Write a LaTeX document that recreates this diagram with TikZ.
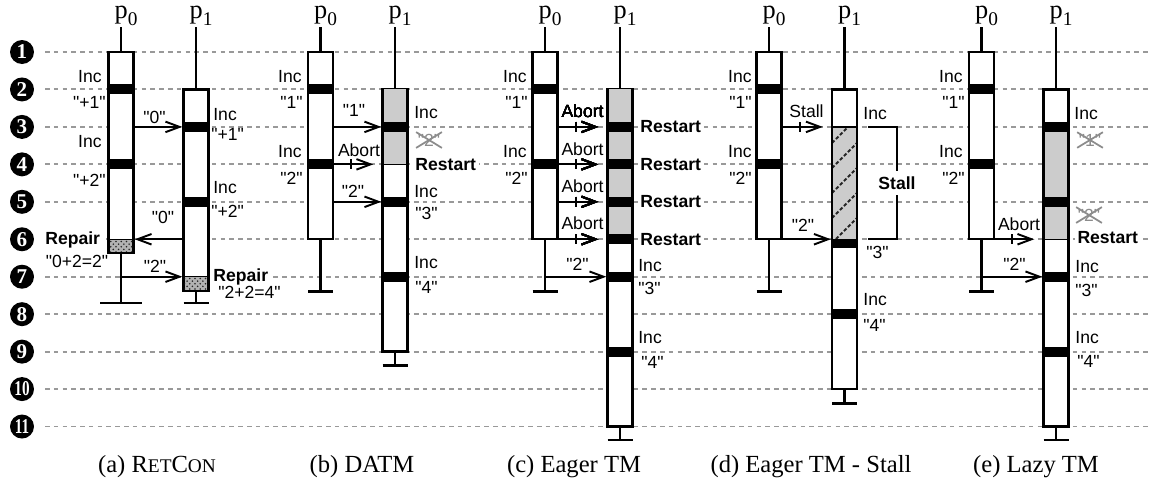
\documentclass[tikz,border=0pt]{standalone}
\usepackage{fontspec}
\setmainfont{Liberation Serif}
\setsansfont{Liberation Sans}
\usetikzlibrary{arrows.meta, positioning, fit, calc, patterns, shapes.misc}
\tikzset{
    proc/.style={rectangle, draw=black, line width=1.4pt, fill=white, inner sep=0pt},
    life/.style={line width=1.4pt},
    rowline/.style={gray!80, line width=1.1pt, dash pattern=on 2.6pt off 2.4pt},
    pending/.style={fill=gray!40},
    repair/.style={fill=gray!60, postaction={pattern=crosshatch dots, pattern color=black!85}},
    hatchline/.style={black!85, line width=1.1pt, dash pattern=on 2pt off 1.2pt},
    msg/.style={line width=1.1pt, -{Straight Barb[length=8pt, width=6pt, line width=1.1pt]}},
    nack/.style={msg, shorten >=0.16cm},
    lbl/.style={font=\fontsize{10}{12}\sffamily, inner sep=0pt},
    blbl/.style={font=\fontsize{10}{12}\sffamily\bfseries, inner sep=1.5pt, fill=white},
    gone/.style={lbl, text=gray!90, cross out, draw=gray!90, line width=1pt, inner sep=0.5pt},
    rownum/.style={circle, fill=black, text=white, minimum size=0.48cm, inner sep=0pt, font=\fontsize{12}{12}\selectfont\bfseries},
    pname/.style={font=\fontsize{15}{15}\selectfont, anchor=base},
    subcap/.style={font=\fontsize{14}{14}\selectfont}
}
\newcommand{\pendfill}[3]{\fill[pending] ($(#1.west |- #2)+(1.4pt,0)$) rectangle ($(#1.east |- #3)+(-1.4pt,0)$);}
\newcommand{\bandfill}[2]{\fill ($(#1.west |- #2)+(0,-5)$) rectangle ($(#1.east |- #2)+(0,5)$);}
\newcommand{\tickmark}[2]{\draw[line width=1.1pt] ($(#1.east |- #2)+(17,-5)$) -- ++(0,10);}
\newcommand{\q}[1]{\textquotedbl#1\textquotedbl}
\newcommand{\pz}{\raisebox{-4pt}{\fontsize{11}{11}\selectfont 0}}
\newcommand{\po}{\raisebox{-4pt}{\fontsize{11}{11}\selectfont 1}}

\begin{document}
\begin{tikzpicture}[x=0.02cm, y=-0.02cm]
    \useasboundingbox (0,0) rectangle (1151,484);
    \coordinate (top) at (0,27);
    \foreach \i in {1,...,11} {
        \pgfmathsetmacro{\ry}{52+(\i-1)*37.45}
        \coordinate (r\i) at (0,\ry);
        \draw[rowline] (45,\ry) -- (1151,\ry);
        \node[rownum] (n\i) at (22,\ry) {\ifnum\i>9 \scalebox{0.72}[1]{\i}\else\i\fi};
    }

    % (a) RetCon
    \node[pname] (a0name) at (126,18) {p\pz};
    \node[pname] (a1name) at (201,18) {p\po};
    \node[proc, fit={(108.5,52) (133.5,253)}] (a0) {};
    \node[proc, fit={(183.5,89.45) (208.5,291)}] (a1) {};
    \draw[life] (a0.north) -- (a0.north |- top);
    \draw[life] (a1.north) -- (a1.north |- top);
    \draw[life] (a0.south) -- ++(0,49) ++(-21,0) -- ++(42,0);
    \draw[life] (a1.south) -- ++(0,11) ++(-12.5,0) -- ++(25,0);
    \bandfill{a0}{r2} \bandfill{a0}{r4}
    \bandfill{a1}{r3} \bandfill{a1}{r5}
    \fill[repair] ($(a0.west |- r6)+(1.4pt,0)$) rectangle ($(a0.south east)+(-1.4pt,1.4pt)$);
    \draw[line width=0.8pt] (a0.west |- r6) -- (a0.east |- r6);
    \fill[repair] ($(a1.west |- r7)+(1.4pt,0)$) rectangle ($(a1.south east)+(-1.4pt,1.4pt)$);
    \draw[line width=0.8pt] (a1.west |- r7) -- (a1.east |- r7);
    \draw[msg] (a0.east |- r3) -- (a1.west |- r3);
    \draw[msg] (a1.west |- r6) -- (a0.east |- r6);
    \draw[msg] (a0.south |- r7) -- (a1.west |- r7);
    \node[lbl, anchor=east] (a0inc1) at (102,77) {Inc};
    \node[lbl, anchor=east] (a0val1) at (106,102) {\q{+1}};
    \node[lbl, anchor=east] (a0inc2) at (102,142) {Inc};
    \node[lbl, anchor=east] (a0val2) at (106,180) {\q{+2}};
    \node[lbl, anchor=west] (a1inc1) at (213,115) {Inc};
    \node[lbl, anchor=west] (a1val1) at (211,134) {\q{+1}};
    \node[lbl, anchor=west] (a1inc2) at (213,188) {Inc};
    \node[lbl, anchor=west] (a1val2) at (211,211) {\q{+2}};
    \node[lbl] (amsg1) at (154.5,117) {\q{0}};
    \node[lbl] (amsg2) at (163,217) {\q{0}};
    \node[lbl] (amsg3) at (155,266) {\q{2}};
    \node[blbl, anchor=east] (a0rep) at (103,240) {Repair};
    \node[lbl] (a0sum) at (77,261) {\q{0+2=2}};
    \node[blbl, anchor=west] (a1rep) at (210.5,277) {Repair};
    \node[lbl, anchor=west] (a1sum) at (218,292) {\q{2+2=4}};
    \node[subcap] (acap) at (157,467) {(a) R{\fontsize{11}{11}\selectfont ET}C{\fontsize{11}{11}\selectfont ON}};

    % (b) DATM
    \node[pname] (b0name) at (325.5,18) {p\pz};
    \node[pname] (b1name) at (400,18) {p\po};
    \node[proc, fit={(308,52) (333,239.25)}] (b0) {};
    \node[proc, fit={(382.5,89.45) (407.5,351.6)}] (b1) {};
    \draw[life] (b0.north) -- (b0.north |- top);
    \draw[life] (b1.north) -- (b1.north |- top);
    \draw[life] (b0.south) -- ++(0,51) ++(-12.5,0) -- ++(25,0);
    \draw[life] (b1.south) -- ++(0,12.5) ++(-12.5,0) -- ++(25,0);
    \bandfill{b0}{r2} \bandfill{b0}{r4}
    \pendfill{b1}{r2}{r4}
    \bandfill{b1}{r3} \bandfill{b1}{r5} \bandfill{b1}{r7}
    \draw[line width=0.8pt] (b1.west |- r4) -- (b1.east |- r4);
    \draw[msg] (b0.east |- r3) -- (b1.west |- r3);
    \draw[nack] (b0.east |- r4) -- (b1.west |- r4);
    \tickmark{b0}{r4}
    \draw[msg] (b0.east |- r5) -- (b1.west |- r5);
    \node[lbl, anchor=east] (b0inc1) at (302,77) {Inc};
    \node[lbl, anchor=east] (b0val1) at (303,102) {\q{1}};
    \node[lbl, anchor=east] (b0inc2) at (302,152) {Inc};
    \node[lbl, anchor=east] (b0val2) at (303,178) {\q{2}};
    \node[lbl] (bmsg1) at (354,110) {\q{1}};
    \node[lbl] (babort) at (359,150) {Abort};
    \node[lbl] (bmsg2) at (353,191) {\q{2}};
    \node[lbl, anchor=west] (b1inc1) at (414,113) {Inc};
    \node[gone] (b1val1) at (429,140) {\q{2}};
    \node[blbl, anchor=west] (b1rst) at (412.5,165) {Restart};
    \node[lbl, anchor=west] (b1inc2) at (414,192) {Inc};
    \node[lbl, anchor=west] (b1val2) at (415,213) {\q{3}};
    \node[lbl, anchor=west] (b1inc3) at (414,263) {Inc};
    \node[lbl, anchor=west] (b1val3) at (415,287) {\q{4}};
    \node[subcap] (bcap) at (362,467) {(b) DATM};

    % (c) Eager TM
    \node[pname] (c0name) at (550,18) {p\pz};
    \node[pname] (c1name) at (625,18) {p\po};
    \node[proc, fit={(532.5,52) (557.5,239.25)}] (c0) {};
    \node[proc, fit={(607.5,89.45) (632.5,426.5)}] (c1) {};
    \draw[life] (c0.north) -- (c0.north |- top);
    \draw[life] (c1.north) -- (c1.north |- top);
    \draw[life] (c0.south) -- ++(0,51) ++(-12.5,0) -- ++(25,0);
    \draw[life] (c1.south) -- ++(0,12.5) ++(-12.5,0) -- ++(25,0);
    \bandfill{c0}{r2} \bandfill{c0}{r4}
    \pendfill{c1}{r2}{r6}
    \foreach \r in {3,4,5,6,7,9} \bandfill{c1}{r\r}
    \foreach \r in {3,4,5,6} {
        \draw[nack] (c0.east |- r\r) -- (c1.west |- r\r);
        \tickmark{c0}{r\r}
    }
    \node[lbl] (cabort3) at (582.5,111) {Abort};
    \node[lbl] (cabort4) at (582.5,149) {Abort};
    \node[lbl] (cabort5) at (582.5,186) {Abort};
    \node[lbl] (cabort6) at (582.5,223) {Abort};
    \node[blbl, anchor=west] (c1rst3) at (637.5,126.9) {Restart};
    \node[blbl, anchor=west] (c1rst4) at (637.5,164.35) {Restart};
    \node[blbl, anchor=west] (c1rst5) at (637.5,201.8) {Restart};
    \node[blbl, anchor=west] (c1rst6) at (637.5,239.25) {Restart};
    \draw[msg] (c0.south |- r7) -- (c1.west |- r7);
    \node[lbl, anchor=east] (c0inc1) at (527,77) {Inc};
    \node[lbl, anchor=east] (c0val1) at (528,102) {\q{1}};
    \node[lbl, anchor=east] (c0inc2) at (527,152) {Inc};
    \node[lbl, anchor=east] (c0val2) at (528,178) {\q{2}};
    \node[lbl] (cmsg) at (577.5,264) {\q{2}};
    \node[lbl, anchor=west] (c1inc1) at (638,266) {Inc};
    \node[lbl, anchor=west] (c1val1) at (638,288) {\q{3}};
    \node[lbl, anchor=west] (c1inc2) at (638,338) {Inc};
    \node[lbl, anchor=west] (c1val2) at (641,362) {\q{4}};
    \node[subcap] (ccap) at (574,467) {(c) Eager TM};

    % (d) Eager TM - Stall
    \node[pname] (d0name) at (774,18) {p\pz};
    \node[pname] (d1name) at (849.5,18) {p\po};
    \node[proc, fit={(756.5,52) (781.5,239.25)}] (d0) {};
    \node[proc, fit={(832,89.45) (857,389.05)}] (d1) {};
    \draw[life] (d0.north) -- (d0.north |- top);
    \draw[life] (d1.north) -- (d1.north |- top);
    \draw[life] (d0.south) -- ++(0,51) ++(-12.5,0) -- ++(25,0);
    \draw[life] (d1.south) -- ++(0,13) ++(-12.5,0) -- ++(25,0);
    \bandfill{d0}{r2} \bandfill{d0}{r4}
    \begin{scope}
        \clip ($(d1.west |- r3)+(1.4pt,0)$) rectangle ($(d1.east |- r6)+(-1.4pt,0)$);
        \fill[pending] (820,100) rectangle (870,260);
        \foreach \k in {0,...,5} \draw[hatchline] (832,118+25*\k) -- ++(25,-25);
    \end{scope}
    \draw[line width=0.8pt] (d1.west |- r3) -- (d1.east |- r3);
    \fill (d1.west |- r6) rectangle ($(d1.east |- r6)+(0,9)$);
    \bandfill{d1}{r8}
    \draw[nack] (d0.east |- r3) -- (d1.west |- r3);
    \tickmark{d0}{r3}
    \draw[msg] (d0.east |- r6) -- (d1.west |- r6);
    \node[lbl, anchor=east] (d0inc1) at (752,77) {Inc};
    \node[lbl, anchor=east] (d0val1) at (752,102) {\q{1}};
    \node[lbl, anchor=east] (d0inc2) at (752,152) {Inc};
    \node[lbl, anchor=east] (d0val2) at (752,178) {\q{2}};
    \node[lbl] (dstall) at (806.5,111) {Stall};
    \node[lbl] (dmsg) at (803,225) {\q{2}};
    \node[lbl, anchor=west] (d1inc1) at (863,114) {Inc};
    \node[lbl, anchor=west] (d1val1) at (866,252) {\q{3}};
    \node[lbl, anchor=west] (d1inc2) at (863,300) {Inc};
    \node[lbl, anchor=west] (d1val2) at (863,325) {\q{4}};
    \node[blbl, inner sep=3pt] (stall) at (897,183) {Stall};
    \draw[line width=1.2pt] ($(d1.east |- r3)+(10,0)$) -| (stall.north);
    \draw[line width=1.2pt] (stall.south) |- ($(d1.east |- r6)+(10,0)$);
    \node[subcap] (dcap) at (811,467) {(d) Eager TM - Stall};

    % (e) Lazy TM
    \node[pname] (e0name) at (986.5,18) {p\pz};
    \node[pname] (e1name) at (1061,18) {p\po};
    \node[proc, fit={(969,52) (994,239.25)}] (e0) {};
    \node[proc, fit={(1043.5,89.45) (1068.5,426.5)}] (e1) {};
    \draw[life] (e0.north) -- (e0.north |- top);
    \draw[life] (e1.north) -- (e1.north |- top);
    \draw[life] (e0.south) -- ++(0,51) ++(-12.5,0) -- ++(25,0);
    \draw[life] (e1.south) -- ++(0,12.5) ++(-12.5,0) -- ++(25,0);
    \bandfill{e0}{r2} \bandfill{e0}{r4}
    \pendfill{e1}{r3}{r6}
    \foreach \r in {3,5,7,9} \bandfill{e1}{r\r}
    \draw[line width=0.8pt] (e1.west |- r6) -- (e1.east |- r6);
    \draw[nack] (e0.east |- r6) -- (e1.west |- r6);
    \tickmark{e0}{r6}
    \draw[msg] (e0.south |- r7) -- (e1.west |- r7);
    \node[lbl, anchor=east] (e0inc1) at (963,77) {Inc};
    \node[lbl, anchor=east] (e0val1) at (965,102) {\q{1}};
    \node[lbl, anchor=east] (e0inc2) at (963,152) {Inc};
    \node[lbl, anchor=east] (e0val2) at (965,178) {\q{2}};
    \node[lbl] (eabort) at (1019,224) {Abort};
    \node[lbl] (emsg) at (1014.5,264) {\q{2}};
    \node[lbl, anchor=west] (e1inc1) at (1074,114) {Inc};
    \node[gone] (e1val1) at (1090,140) {\q{1}};
    \node[gone] (e1val2) at (1089,215) {\q{2}};
    \node[blbl, anchor=west] (e1rst) at (1074.5,238) {Restart};
    \node[lbl, anchor=west] (e1inc2) at (1075,267) {Inc};
    \node[lbl, anchor=west] (e1val3) at (1075,290) {\q{3}};
    \node[lbl, anchor=west] (e1inc3) at (1075,338) {Inc};
    \node[lbl, anchor=west] (e1val4) at (1077,361) {\q{4}};
    \node[subcap] (ecap) at (1036,467) {(e) Lazy TM};
\end{tikzpicture}
\end{document}
